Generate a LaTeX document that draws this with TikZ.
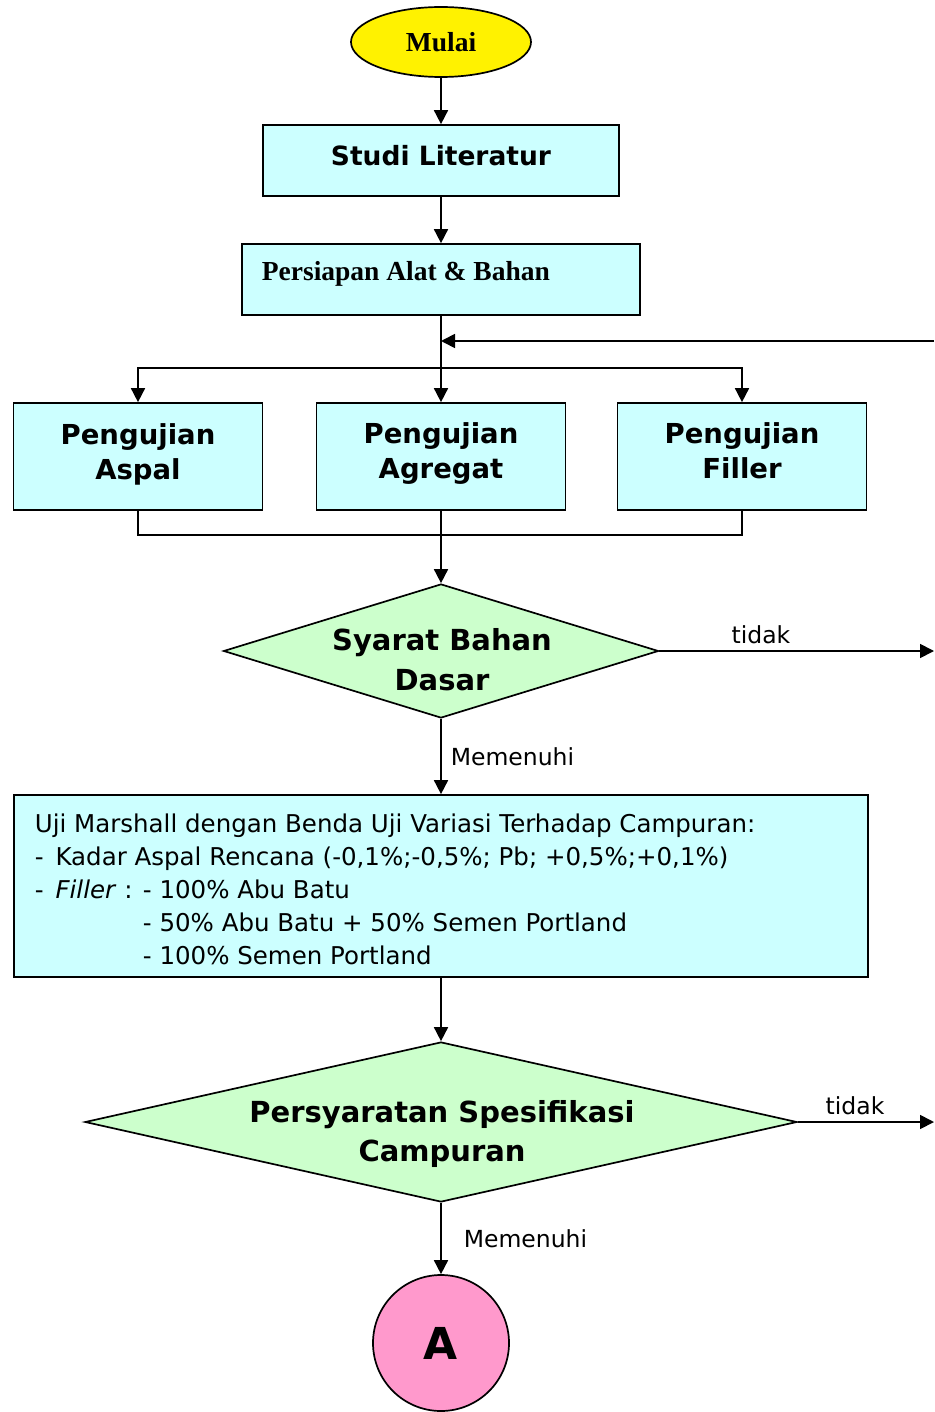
\documentclass[tikz,border=0pt]{standalone}
\usepackage{fontspec}
\setmainfont{DejaVu Sans}
\newfontfamily\serifb{Liberation Serif}
\usetikzlibrary{shapes.geometric,arrows.meta}
\definecolor{boxc}{HTML}{CCFFFF}
\definecolor{diac}{HTML}{CCFFCC}
\definecolor{pinkc}{HTML}{FF99CC}
\begin{document}
\begin{tikzpicture}[x=1pt,y=-1pt,line width=1.7pt,
  box/.style={draw,fill=boxc,rectangle,inner sep=0pt},
  dia/.style={draw,fill=diac,diamond,inner sep=0pt},
  arr/.style={-{Triangle[width=14pt,length=14pt]}},
  btxt/.style={font=\bfseries\fontsize{27.5}{35}\selectfont,align=center,inner sep=0pt},
  lbl/.style={font=\fontsize{23.5}{26}\selectfont,inner sep=0pt}]
\useasboundingbox (0,0) rectangle (934,1412);
% nodes
\node[draw,fill=yellow,ellipse,minimum width=180pt,minimum height=70pt,inner sep=0pt,
  font=\serifb\bfseries\fontsize{27.5}{30}\selectfont] (mulai) at (441,42) {Mulai};
\node[box,minimum width=356pt,minimum height=71pt] (studi) at (441,160.5) {};
\node[btxt,font=\bfseries\fontsize{26.5}{30}\selectfont] (studit) at (441,156) {Studi Literatur};
\node[box,minimum width=398pt,minimum height=71pt] (persi) at (441,279.5) {};
\node[inner sep=0pt,anchor=west,font=\serifb\bfseries\fontsize{27.5}{30}\selectfont] (persit) at (261,274) {Persiapan Alat \& Bahan};
\node[box,minimum width=249pt,minimum height=107pt] (aspal) at (138,456.5) {};
\node[box,minimum width=249pt,minimum height=107pt] (agre) at (441,456.5) {};
\node[box,minimum width=249pt,minimum height=107pt] (fill) at (742,456.5) {};
\node[btxt] (aspalt) at (138,454) {Pengujian\\Aspal};
\node[btxt] (agret) at (441,454) {Pengujian\\Agregat};
\node[btxt] (fillt) at (742,454) {Pengujian\\Filler\vphantom{g}};
\node[dia,minimum width=435pt,minimum height=134pt] (d1) at (441,651) {};
\node[btxt,font=\bfseries\fontsize{29}{40}\selectfont] (d1t) at (442,660) {Syarat Bahan\\Dasar};
\node[box,minimum width=854pt,minimum height=182pt] (marsh) at (441,886) {};
\node[inner sep=0pt,anchor=north west,align=left,font=\fontsize{24.5}{33}\selectfont] (marsht) at (34,813)
 {Uji Marshall dengan Benda Uji Variasi Terhadap Campuran:\\
  - \,Kadar Aspal Rencana (-0,1\%;-0,5\%; Pb; +0,5\%;+0,1\%)\\
  - \,\textit{Filler} : - 100\% Abu Batu\\
  \phantom{- \,\textit{Filler} : }- 50\% Abu Batu + 50\% Semen Portland\\
  \phantom{- \,\textit{Filler} : }- 100\% Semen Portland};
\node[dia,minimum width=712pt,minimum height=160pt] (d2) at (441,1122) {};
\node[btxt,font=\bfseries\fontsize{29}{39}\selectfont] (d2t) at (442,1134) {Persyaratan Spesifikasi\\Campuran};
\node[draw,fill=pinkc,circle,minimum size=136pt,inner sep=0pt,
  font=\bfseries\fontsize{44}{50}\selectfont] (a) at (441,1343) {A};
% coordinates
\coordinate (fbs) at (934,341);
\coordinate (fbe) at (441,341);
\coordinate (split) at (441,368);
\coordinate (merge) at (441,535);
\coordinate (t1) at (934,651);
\coordinate (t2) at (934,1122);
% connectors
\draw[arr] (mulai) -- (studi);
\draw[arr] (studi) -- (persi);
\draw[arr] (persi.south) -- (agre.north);
\draw[arr] (fbs) -- (fbe);
\draw[arr] (split) -| (aspal.north);
\draw[arr] (split) -| (fill.north);
\draw (aspal.south) |- (merge) -| (fill.south);
\draw[arr] (agre.south) -- (d1.north);
\draw[arr] (d1.east) -- node[lbl,pos=0.37,yshift=16pt] (tid1) {tidak} (t1);
\draw[arr] (d1.south) -- node[lbl,right=9pt] (mem1) {Memenuhi} (marsh.north);
\draw[arr] (marsh.south) -- (d2.north);
\draw[arr] (d2.east) -- node[lbl,pos=0.42,yshift=16pt] (tid2) {tidak} (t2);
\draw[arr] (d2.south) -- node[lbl,right=22pt,pos=0.5] (mem2) {Memenuhi} (a.north);
\end{tikzpicture}
\end{document}
